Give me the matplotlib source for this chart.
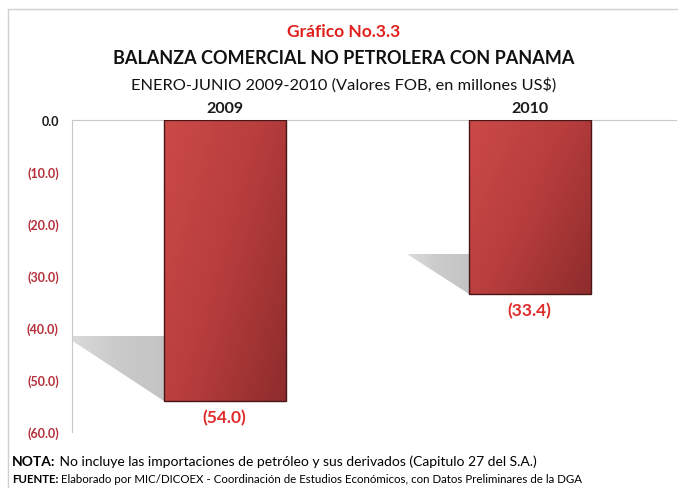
import numpy as np
import matplotlib
matplotlib.use('Agg')
import matplotlib.pyplot as plt
from matplotlib.patches import Rectangle, Polygon
from matplotlib.colors import LinearSegmentedColormap

# datos
years = ['2009', '2010']
saldo = [-54.0, -33.4]
yticks = [0, -10, -20, -30, -40, -50, -60]

plt.rcParams['font.family'] = ['Lato', 'DejaVu Sans']

fig = plt.figure(figsize=(6.78, 4.89), dpi=100)
fig.patch.set_facecolor('white')

# marco exterior
fig.patches.append(Rectangle((8 / 678, -0.05), 1.0, 1 - 10 / 489 + 0.05, transform=fig.transFigure,
                             fill=False, edgecolor='#d0d0d0', linewidth=1.0))

ax = fig.add_axes([72 / 678, 1 - 433 / 489, (676 - 72) / 678, (433 - 121) / 489])

bar_w = 0.4
cmap = LinearSegmentedColormap.from_list('rojo', ['#cb4a48', '#b73d3d', '#8e2c2c'])
grad = np.add.outer(np.linspace(0, 1, 100) * 0.8, np.linspace(0, 1, 100) * 1.2) / 2
cmap_sh = LinearSegmentedColormap.from_list('sombra', ['#dcdcdc', '#cbcbcb', '#c4c4c4'])
grad_sh = np.tile(np.linspace(0, 1, 100), (10, 1))

for i, v in enumerate(saldo):
    x0 = i - bar_w / 2
    # sombra
    xs = x0 - 0.006 * abs(v)
    ys = v + 0.23 * abs(v)
    sh = Polygon([(xs, ys), (x0, ys), (x0, v)], closed=True, facecolor='none', edgecolor='none')
    ax.add_patch(sh)
    ims = ax.imshow(grad_sh, cmap=cmap_sh, extent=(xs, x0, v, ys), aspect='auto', zorder=1,
                    interpolation='bilinear')
    ims.set_clip_path(sh)
    rect = Rectangle((x0, v), bar_w, -v, facecolor='none', edgecolor='#4a1515', linewidth=1.0, zorder=3)
    ax.add_patch(rect)
    im = ax.imshow(grad, cmap=cmap, extent=(x0, x0 + bar_w, v, 0), origin='upper',
                   aspect='auto', zorder=2, interpolation='bilinear')
    im.set_clip_path(rect)
    ax.text(i, 0.9, years[i], ha='center', va='bottom', fontsize=11.5, fontweight='bold', color='#1a1a1a')
    ax.text(i, v - 1.5, '(%.1f)' % abs(v), ha='center', va='top', fontsize=12.5,
            fontweight='bold', color='#e02b2b')

ax.set_xlim(-0.5, 1.48)
ax.set_ylim(-60, 0)
ax.set_xticks([])
ax.set_yticks(yticks)
labels = ['0.0' if t == 0 else '(%.1f)' % abs(t) for t in yticks]
ax.set_yticklabels(labels, fontsize=9, fontweight='bold')
for lab, t in zip(ax.get_yticklabels(), yticks):
    lab.set_color('#1a1a1a' if t == 0 else '#b5303a')
ax.tick_params(axis='y', length=0, pad=9.5)
for s in ['right', 'bottom']:
    ax.spines[s].set_visible(False)
ax.spines['top'].set_color('#c8c8c8')
ax.spines['left'].set_color('#c8c8c8')

# titulos
fig.text(0.507, 1 - 32 / 489, 'Gráfico No.3.3', ha='center', va='center', fontsize=12.5,
         fontweight='bold', color='#e0201c')
fig.text(0.507, 1 - 59 / 489, 'BALANZA COMERCIAL NO PETROLERA CON PANAMA', ha='center', va='center',
         fontsize=13, fontweight='bold', color='#111111')
fig.text(0.507, 1 - 85 / 489, 'ENERO-JUNIO 2009-2010 (Valores FOB, en millones US$)', ha='center',
         va='center', fontsize=11.8, color='#111111')

# notas
t1 = fig.text(12 / 678, 1 - 462 / 489, 'NOTA:', ha='left', va='center', fontsize=10,
              fontweight='bold', color='black')
ax.annotate(' No incluye las importaciones de petróleo y sus derivados (Capitulo 27 del S.A.)',
            xy=(1, 0), xycoords=t1, va='bottom', ha='left', fontsize=10, color='black',
            annotation_clip=False)
t2 = fig.text(12 / 678, 1 - 480 / 489, 'FUENTE:', ha='left', va='center', fontsize=8.3,
              fontweight='bold', color='black')
ax.annotate(' Elaborado por MIC/DICOEX - Coordinación de Estudios Económicos, con Datos Preliminares de la DGA',
            xy=(1, 0), xycoords=t2, va='bottom', ha='left', fontsize=8.3, color='black',
            annotation_clip=False)

fig.savefig('out.png', dpi=100)
